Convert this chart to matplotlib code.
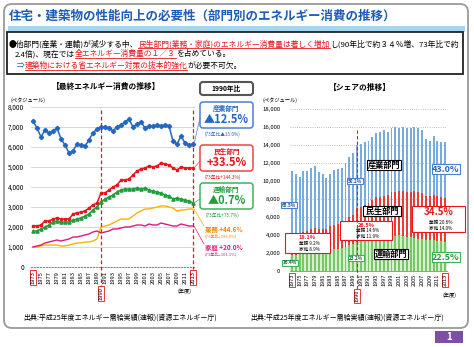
import numpy as np
import matplotlib
matplotlib.use("Agg")
import matplotlib.pyplot as plt
from matplotlib.patches import FancyBboxPatch, Rectangle

plt.rcParams['font.family'] = ['Noto Sans CJK JP', 'DejaVu Sans']

# data (ペタジュール), fiscal years 1973-2013
years = np.arange(1973, 2014)
industry = [7300, 6950, 6500, 6850, 6700, 6800, 6950, 6400, 6100, 5700,
            5800, 6150, 6100, 6050, 6350, 6700, 6900, 7000, 7000, 6950,
            6800, 7000, 7100, 7250, 7400, 7000, 7150, 7250, 6950, 7050,
            7050, 7100, 7050, 7100, 7050, 6300, 6150, 6550, 6200, 6100, 6150]
residential = [2050, 2050, 2100, 2300, 2300, 2400, 2450, 2400, 2400, 2400,
               2650, 2700, 2750, 2800, 2950, 3100, 3200, 3700, 3700, 3850,
               4000, 4100, 4350, 4350, 4400, 4600, 4800, 4900, 4950, 5050,
               5000, 5050, 5200, 5150, 5100, 4950, 4850, 5000, 4950, 4950, 4950]
transport = [1800, 1800, 1900, 2000, 2100, 2250, 2300, 2250, 2250, 2250,
             2350, 2400, 2450, 2550, 2650, 2850, 3000, 3250, 3400, 3500,
             3600, 3750, 3850, 3900, 3900, 3900, 3950, 3900, 3950, 3850,
             3800, 3750, 3700, 3600, 3550, 3400, 3450, 3400, 3350, 3300, 3200]
commercial = [1000, 1000, 1050, 1100, 1100, 1100, 1100, 1050, 1050, 1100,
              1150, 1200, 1200, 1250, 1250, 1300, 1400, 2000, 2050, 2100,
              2200, 2300, 2400, 2400, 2400, 2550, 2700, 2800, 2900, 2900,
              2950, 3000, 3050, 3050, 3000, 2950, 2800, 2850, 2850, 2900, 2900]
household = [1000, 1050, 1100, 1200, 1250, 1300, 1350, 1300, 1350, 1400,
             1500, 1500, 1550, 1600, 1650, 1750, 1800, 1700, 1750, 1800,
             1900, 1900, 1950, 2000, 2000, 2050, 2100, 2100, 2050, 2150,
             2100, 2100, 2200, 2150, 2100, 2050, 2050, 2150, 2100, 2050, 2050]
tick_years = list(range(1973, 1990, 2)) + list(range(1991, 2014, 2))

W, H = 474, 347
fig = plt.figure(figsize=(W / 100, H / 100), dpi=100)
fig.patch.set_facecolor('white')

BLUE = '#2467c0'
RED = '#e8161b'
GREEN = '#1f9e3a'
ORANGE = '#f5b400'
MAGENTA = '#e0187f'


def axpx(l, t, r, b):
    return fig.add_axes([l / W, 1 - b / H, (r - l) / W, (b - t) / H])


# overlay in pixel coordinates for frame / annotations
ov = fig.add_axes([0, 0, 1, 1], zorder=5)
ov.set_xlim(0, W)
ov.set_ylim(H, 0)
ov.axis('off')
ov.patch.set_alpha(0)

ov.add_patch(FancyBboxPatch((4, 4), 464, 324, boxstyle='round,pad=0,rounding_size=8',
                            fc='none', ec='#9a9a9a', lw=1.3))
ov.add_patch(Rectangle((8, 26), 457, 6, fc='#a9d3f0', ec='none'))
ov.text(9, 16, '住宅・建築物の性能向上の必要性（部門別のエネルギー消費の推移）',
        fontsize=9.0, fontweight='bold', color='#1c5cb8', va='center', ha='left')
ov.add_patch(Rectangle((7, 32), 456, 42, fc='white', ec='#222222', lw=1.3))

renderer = fig.canvas.get_renderer()


def rich(x, y, parts, size=5.6):
    for txt, col, ul in parts:
        t = ov.text(x, y, txt, fontsize=size, color=col, va='center', ha='left')
        bb = t.get_window_extent(renderer)
        w = bb.width
        if ul:
            ov.plot([x, x + w], [y + 4.2, y + 4.2], color=col, lw=0.6)
        x += w


rich(9, 44, [('●他部門(産業・運輸)が減少する中、', 'black', False),
             ('民生部門(業務・家庭)のエネルギー消費量は著しく増加', RED, True),
             ('し(90年比で約３４％増、73年比で約', 'black', False)])
rich(15, 54, [('2.4倍)、現在では', 'black', False),
              ('全エネルギー消費量の１／３', RED, True),
              ('を占めている。', 'black', False)])
rich(17, 66, [('⇒', BLUE, False),
              ('建築物における省エネルギー対策の抜本的強化', RED, True),
              ('が必要不可欠。', 'black', False)])

# ---------- left: line chart ----------
ax = axpx(31, 107, 195, 267)
ax.plot(years, industry, color=BLUE, lw=1.1, marker='D', ms=2.2)
ax.plot(years, residential, color=RED, lw=1.1, marker='s', ms=2.0)
ax.plot(years, transport, color=GREEN, lw=1.1, marker='^', ms=2.3)
ax.plot(years, commercial, color=ORANGE, lw=1.0)
ax.plot(years, household, color=MAGENTA, lw=1.0)
ax.set_xlim(1972.5, 2013.5)
ax.set_ylim(0, 8000)
ax.set_yticks(range(0, 8001, 1000))
ax.set_yticklabels(['0'] + [f'{v:,}' for v in range(1000, 8001, 1000)], fontsize=4.6)
ax.grid(axis='y', color='#d0d0d0', lw=0.6)
ax.set_axisbelow(True)
for s in ['top', 'right', 'left']:
    ax.spines[s].set_visible(False)
ax.spines['bottom'].set_linestyle(':')
ax.spines['bottom'].set_color('#888888')
ax.tick_params(length=0, pad=5)
ax.set_xticks(tick_years)
ax.set_xticklabels([str(y) for y in tick_years], rotation=90, fontsize=4.2, va='top')
ax.tick_params(axis='x', pad=3)
for lab in ax.get_xticklabels():
    if lab.get_text() in ('1973', '2013'):
        lab.set_bbox(dict(fc='white', ec=RED, lw=0.6, pad=0.6))

# ---------- right: stacked bars ----------
bx = axpx(290, 109, 447, 271)
tr = np.array(transport)
re = np.array(residential)
ind = np.array(industry)
bx.bar(years, tr, width=1.0, color='#d6efcc', lw=0)
bx.bar(years, tr, width=0.5, color='#77c768', lw=0)
bx.bar(years, re, width=0.5, bottom=tr, color='#ea3b34', lw=0)
bx.bar(years, ind, width=0.5, bottom=tr + re, color='#78acdf', lw=0)
bx.set_xlim(1972.5, 2013.5)
bx.set_ylim(0, 18000)
bx.set_yticks(range(0, 18001, 2000))
bx.set_yticklabels(['0'] + [f'{v:,}' for v in range(2000, 18001, 2000)], fontsize=4.3)
bx.grid(axis='y', color='#aaaaaa', lw=0.6, ls=':')
bx.set_axisbelow(True)
for s in ['top', 'right', 'left']:
    bx.spines[s].set_visible(False)
bx.spines['bottom'].set_color('#888888')
bx.spines['bottom'].set_linewidth(0.6)
bx.tick_params(length=0, pad=7)
bx.set_xticks(tick_years)
bx.set_xticklabels([str(y) for y in tick_years], rotation=90, fontsize=4.0, va='top')
bx.tick_params(axis='x', pad=2)
for lab in bx.get_xticklabels():
    if lab.get_text() in ('1973', '2013'):
        lab.set_bbox(dict(fc='white', ec=RED, lw=0.6, pad=0.6))


def to_ov(a, x, y):
    d = a.transData.transform((x, y))
    return d[0], H - d[1]


# 1990 / 2013 dashed markers
x90, _ = to_ov(ax, 1990, 0)
x13, _ = to_ov(ax, 2013, 0)
ov.plot([x90, x90], [110, 287], color=RED, lw=0.9, ls=(0, (3, 2)))
ov.plot([x13, x13], [110, 269], color=RED, lw=0.9, ls=(0, (3, 2)))
ov.text(x90, 287, '1990', rotation=90, fontsize=4.2, ha='center', va='top',
        bbox=dict(fc='white', ec=RED, lw=0.6, pad=0.6))
rx90, _ = to_ov(bx, 1990, 0)
ov.plot([rx90, rx90], [130, 289], color=RED, lw=0.8, ls=(0, (3, 2)))
ov.text(rx90, 290, '1990', rotation=90, fontsize=4.0, ha='center', va='top',
        bbox=dict(fc='white', ec=RED, lw=0.6, pad=0.6))

ov.text(185, 291, '(年度)', fontsize=3.8, ha='center', va='center')
ov.text(450, 295, '(年度)', fontsize=3.8, ha='center', va='center')

# titles
ov.text(106, 86, '【最終エネルギー消費の推移】', fontsize=5.6, fontweight='bold',
        ha='center', va='center')
ov.text(360, 87, '【シェアの推移】', fontsize=5.6, fontweight='bold',
        ha='center', va='center')
ov.text(11, 100, '(ペタジュール)', fontsize=3.8, ha='left', va='center')
ov.text(263, 100, '(ペタジュール)', fontsize=3.8, ha='left', va='center')
src = '出典:平成25年度エネルギー需給実績(速報)(資源エネルギー庁)'
ov.text(23, 318, src, fontsize=5.0, ha='left', va='center')
ov.text(250, 318, src, fontsize=5.0, ha='left', va='center')

# left legend boxes
def rbox(x0, y0, x1, y1, ec, lw=1.1):
    ov.add_patch(FancyBboxPatch((x0, y0), x1 - x0, y1 - y0,
                                boxstyle='round,pad=0,rounding_size=3',
                                fc='white', ec=ec, lw=lw))


rbox(200, 82, 253, 95, '#555555', 1.5)
ov.text(226.5, 88.5, '1990年比', fontsize=4.8, fontweight='bold', ha='center', va='center')
for (y0, name, pct, sub, col, yv) in [
        (102, '産業部門', '▲12.5%', '(73年比▲15.0%)', BLUE, industry[-1]),
        (145, '民生部門', '+33.5%', '(73年比+144.3%)', RED, residential[-1]),
        (183, '運輸部門', '▲0.7%', '(73年比+75.7%)', GREEN, transport[-1])]:
    ec = {BLUE: '#4d7fd0', RED: '#ee4444', GREEN: '#3cb35a'}[col]
    rbox(200, y0, 253, y0 + 26, ec)
    ov.text(226.5, y0 + 6.5, name, fontsize=4.8, fontweight='bold', color=col,
            ha='center', va='center')
    ov.text(226.5, y0 + 17.5, pct, fontsize=8, fontweight='bold', color=col,
            ha='center', va='center')
    ov.text(223, y0 + 32, sub, fontsize=3.4, color=col, ha='center', va='center')
    px_, py_ = to_ov(ax, 2013, yv)
    ov.plot([px_ + 1, 200], [py_, y0 + 16], color=ec, lw=0.5)

ov.text(205, 229, '業務 +44.6%', fontsize=4.6, fontweight='bold', color='#f08300',
        ha='left', va='center')
ov.text(205, 236, '(73年比+196.0%)', fontsize=3.0, color='#f08300', ha='left', va='center')
ov.text(205, 247, '家庭 +20.0%', fontsize=4.6, fontweight='bold', color=MAGENTA,
        ha='left', va='center')
ov.text(205, 254, '(73年比+101.1%)', fontsize=3.0, color=MAGENTA, ha='left', va='center')
px_, py_ = to_ov(ax, 2013, commercial[-1])
ov.plot([px_ + 1, 204], [py_, 226], color=ORANGE, lw=0.5)
px_, py_ = to_ov(ax, 2013, household[-1])
ov.plot([px_ + 1, 204], [py_, 244], color=MAGENTA, lw=0.5)

# right chart annotations
def tag(x, y, s, col, ec, size, pad=0.6):
    ov.text(x, y, s, fontsize=size, fontweight='bold', color=col,
            ha='center', va='center',
            bbox=dict(fc='white', ec=ec, lw=0.8, pad=pad))


tag(384, 165, '産業部門', 'black', 'black', 5.9)
tag(382, 211, ' 民生部門 ', 'black', 'black', 5.9)
tag(391, 254, '運輸部門', 'black', 'black', 5.9)
tag(446, 169, '43.0%', BLUE, '#4d7fd0', 6.5, 0.4)
tag(446, 257, '22.5%', GREEN, '#3cb35a', 6.5, 0.4)
tag(289, 205, '65.5%', '#1c4f9c', '#4d7fd0', 3.3)
tag(355, 181, '50.2%', '#1c4f9c', '#4d7fd0', 3.3)
tag(290, 263, '16.4%', '#126b2a', '#3cb35a', 3.3)
tag(356, 258, '23.2%', '#126b2a', '#3cb35a', 3.3)

for (x0, y0, x1, y1, big, a, b, bs) in [
        (412, 206, 465, 232, '34.5%', '業務 20.6%', '家庭 14.0%', 7),
        (340, 221, 392, 240, '26.5%', '業務 14.6%', '家庭 11.9%', 4),
        (285, 233, 330, 253, '18.1%', '業務 9.2%', '家庭 8.9%', 4)]:
    ov.add_patch(Rectangle((x0, y0), x1 - x0, y1 - y0, fc='white', ec=RED, lw=0.8))
    cx = (x0 + x1) / 2
    top = y0 + (6 if bs > 5 else 4)
    ov.text(cx, top, big, fontsize=bs, fontweight='bold', color=RED, ha='center', va='center')
    ov.text(cx + 2, y1 - 10 if bs > 5 else y1 - 9.5, a, fontsize=3.3, ha='center', va='center')
    ov.text(cx + 2, y1 - 4, b, fontsize=3.3, ha='center', va='center')

# page number
ov.add_patch(Rectangle((435, 331), 28, 12, fc='#7d4fa6', ec='none'))
ov.text(449, 337, '1', fontsize=7, fontweight='bold', color='white', ha='center', va='center')

fig.savefig('out.png', dpi=100)
